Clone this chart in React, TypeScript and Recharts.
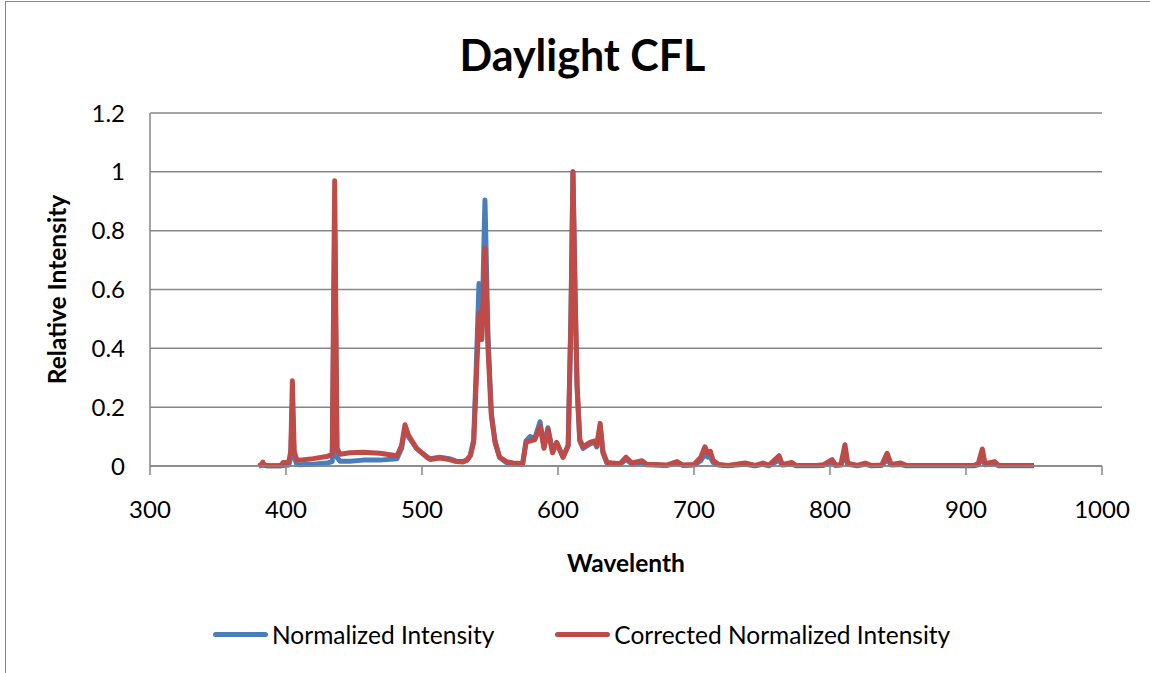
import React from 'react';
import { LineChart, Line, XAxis, YAxis, CartesianGrid } from 'recharts';

const wavelengths = [
  380, 382, 383, 384, 386, 396, 398, 402, 403.5, 404.7,
  406, 408, 410, 420, 430, 434, 435.8, 437.5, 439.7, 447,
  456.6, 469, 481.6, 485, 487.5, 490, 496, 503.5, 506, 513,
  520, 525.5, 530, 533, 535.5, 538, 540, 541.9, 543.9, 546.3,
  548.5, 551, 553.7, 557, 562, 567, 574, 576.5, 579.4, 583,
  586.8, 589.7, 592.6, 596, 599, 603.7, 607.5, 609.5, 611, 612.5,
  614, 616, 618.4, 623.5, 627, 628.5, 631, 633, 636, 645.6,
  650, 654.4, 661.8, 665, 670, 680, 687.5, 692, 700, 705,
  708, 710, 712, 714, 718, 725, 737.5, 745, 750.7, 755,
  762.5, 765, 772, 775, 790, 795, 801.5, 804, 808, 811,
  813, 820, 826, 830, 838, 842, 845, 852, 856, 880,
  906, 909, 912, 914, 921, 924, 950,
];

const normalizedIntensity = [
  0, 0.002, 0.004, 0.002, 0.001, 0.001, 0.002, 0.003, 0.03, 0.2,
  0.03, 0.005, 0.004, 0.006, 0.01, 0.015, 0.8, 0.03, 0.016, 0.016,
  0.02, 0.02, 0.025, 0.06, 0.13, 0.1, 0.06, 0.032, 0.025, 0.03,
  0.025, 0.016, 0.015, 0.02, 0.035, 0.09, 0.35, 0.62, 0.43, 0.904,
  0.45, 0.18, 0.085, 0.03, 0.012, 0.008, 0.006, 0.085, 0.1, 0.095,
  0.15, 0.065, 0.13, 0.048, 0.08, 0.03, 0.07, 0.5, 1.0, 0.6,
  0.27, 0.085, 0.06, 0.075, 0.08, 0.065, 0.135, 0.045, 0.01, 0.006,
  0.022, 0.007, 0.012, 0.004, 0.003, 0.002, 0.01, 0.002, 0.003, 0.018,
  0.04, 0.03, 0.032, 0.012, 0.003, 0.001, 0.006, 0.001, 0.006, 0.001,
  0.02, 0.003, 0.007, 0.001, 0.001, 0.002, 0.012, 0.002, 0.003, 0.04,
  0.006, 0.001, 0.006, 0.001, 0.002, 0.022, 0.003, 0.005, 0.001, 0.001,
  0.001, 0.004, 0.028, 0.004, 0.007, 0.001, 0.001,
];

const correctedIntensity = [
  0, 0.006, 0.013, 0.004, 0.001, 0.001, 0.012, 0.013, 0.05, 0.29,
  0.05, 0.02, 0.02, 0.025, 0.032, 0.04, 0.97, 0.06, 0.04, 0.045,
  0.047, 0.043, 0.035, 0.07, 0.14, 0.105, 0.06, 0.03, 0.022, 0.027,
  0.022, 0.015, 0.014, 0.02, 0.035, 0.08, 0.3, 0.52, 0.43, 0.74,
  0.4, 0.17, 0.08, 0.03, 0.015, 0.01, 0.008, 0.08, 0.085, 0.09,
  0.135, 0.06, 0.125, 0.045, 0.08, 0.03, 0.07, 0.5, 1.0, 0.6,
  0.28, 0.09, 0.065, 0.08, 0.085, 0.07, 0.145, 0.05, 0.012, 0.008,
  0.03, 0.01, 0.018, 0.006, 0.005, 0.003, 0.015, 0.003, 0.005, 0.03,
  0.065, 0.045, 0.05, 0.02, 0.005, 0.002, 0.01, 0.002, 0.01, 0.002,
  0.035, 0.005, 0.012, 0.002, 0.002, 0.004, 0.022, 0.003, 0.005, 0.072,
  0.01, 0.002, 0.01, 0.002, 0.003, 0.043, 0.005, 0.01, 0.002, 0.002,
  0.002, 0.008, 0.058, 0.008, 0.015, 0.002, 0.002,
];

const xTicks = [300, 400, 500, 600, 700, 800, 900, 1000];
const yTicks = [0, 0.2, 0.4, 0.6, 0.8, 1, 1.2];

const seriesNames = ['Normalized Intensity', 'Corrected Normalized Intensity'];
const seriesColors = ['#4A7EBB', '#BE4B48'];
const title = 'Daylight CFL';
const xTitle = 'Wavelenth';
const yTitle = 'Relative Intensity';

const data = wavelengths.map((w, i) => ({
  wl: w,
  normalized: normalizedIntensity[i],
  corrected: correctedIntensity[i],
}));

const FONT = 'Lato, Carlito, "Liberation Sans", sans-serif';
const GRID = '#868686';

export default function App() {
  return (
    <div style={{ position: 'fixed', left: 0, top: 0, width: 1150, height: 673, overflow: 'hidden', background: '#fff', fontFamily: FONT }}>
      <div style={{ position: 'absolute', left: 5, top: 1, width: 1200, height: 800, border: `1.5px solid ${GRID}`, boxSizing: 'border-box' }} />
      <div style={{ position: 'absolute', left: 0, top: 0 }}>
        <LineChart width={1150} height={673} data={data} margin={{ top: 113, right: 48, bottom: 103, left: 50 }}>
          <CartesianGrid vertical={false} stroke={GRID} strokeWidth={1.5} />
          <XAxis
            dataKey="wl"
            type="number"
            domain={[300, 1000]}
            ticks={xTicks}
            height={104}
            axisLine={{ stroke: GRID, strokeWidth: 1.5 }}
            tickLine={{ stroke: GRID, strokeWidth: 1.5 }}
            tickSize={9}
            tickMargin={26}
            tick={{ fill: '#000', fontSize: 24, fontFamily: FONT }}
            label={({ viewBox }: any) => (
              <text
                x={viewBox.x + viewBox.width / 2}
                y={viewBox.y + viewBox.height - 8}
                textAnchor="middle"
                dominantBaseline="central"
                fontFamily={FONT}
                fontWeight="bold"
                fontSize={24.5}
                fill="#000"
              >
                {xTitle}
              </text>
            )}
          />
          <YAxis
            type="number"
            domain={[0, 1.2]}
            ticks={yTicks}
            width={100}
            axisLine={{ stroke: GRID, strokeWidth: 1.5 }}
            tickLine={false}
            tickSize={0}
            tickMargin={25}
            tick={{ fill: '#000', fontSize: 24, fontFamily: FONT }}
            label={({ viewBox }: any) => {
              const cx = viewBox.x + 6;
              const cy = viewBox.y + viewBox.height / 2;
              return (
                <text
                  x={cx}
                  y={cy}
                  transform={`rotate(-90 ${cx} ${cy})`}
                  textAnchor="middle"
                  dominantBaseline="central"
                  fontFamily={FONT}
                  fontWeight="bold"
                  fontSize={24.5}
                  fill="#000"
                >
                  {yTitle}
                </text>
              );
            }}
          />
          <Line
            type="linear"
            dataKey="normalized"
            name={seriesNames[0]}
            stroke={seriesColors[0]}
            strokeWidth={5}
            dot={false}
            strokeLinejoin="round"
            isAnimationActive={false}
          />
          <Line
            type="linear"
            dataKey="corrected"
            name={seriesNames[1]}
            stroke={seriesColors[1]}
            strokeWidth={5}
            dot={false}
            strokeLinejoin="round"
            isAnimationActive={false}
          />
        </LineChart>
      </div>
      <div style={{ position: 'absolute', left: 0, width: 1165, top: 28, textAlign: 'center', fontSize: 43, fontWeight: 'bold', lineHeight: '54px', color: '#000' }}>
        {title}
      </div>
      <div style={{ position: 'absolute', left: 213, top: 619, height: 30, display: 'flex', alignItems: 'center', fontSize: 24.5, color: '#000' }}>
        {seriesNames.map((n, i) => (
          <div key={n} style={{ display: 'flex', alignItems: 'center', marginRight: i === 0 ? 61 : 0 }}>
            <div style={{ width: 55, height: 5, borderRadius: 3, background: seriesColors[i], marginRight: 4 }} />
            <span>{n}</span>
          </div>
        ))}
      </div>
    </div>
  );
}
